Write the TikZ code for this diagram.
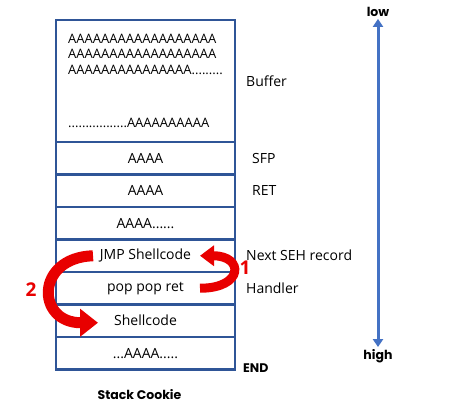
\documentclass[tikz,border=0pt]{standalone}
\usepackage{fontspec}
\setmainfont{Open Sans}
\newfontfamily\markfont{Poppins}
\usetikzlibrary{positioning, arrows.meta, calc}
\definecolor{frame}{RGB}{47,85,151}
\definecolor{axis}{RGB}{68,114,196}
\definecolor{hop}{RGB}{232,0,0}
\tikzset{
  cell/.style={
    draw=frame, line width=2.6pt, outer sep=0pt, inner sep=0pt,
    minimum width=179pt, minimum height=32.5pt, font=\fontsize{14}{16}\selectfont
  },
  tag/.style={anchor=west, inner sep=0pt, font=\fontsize{14}{16}\selectfont},
  boldtag/.style={inner sep=0pt, font=\markfont\bfseries\fontsize{12.5}{15}\selectfont},
  hopnum/.style={text=hop, inner sep=0pt, font=\bfseries\fontsize{19}{21}\selectfont},
  hoparrow/.style={draw=hop, line width=#1},
}

\begin{document}
\begin{tikzpicture}[node distance=0pt]
  \useasboundingbox (0,0) rectangle (456pt,-417pt);

  % stack frame
  \node[cell, minimum height=122pt, align=left, font=\fontsize{13}{15.5}\selectfont] (buf) at (145.5pt,-81pt)
    {AAAAAAAAAAAAAAAAAA\\AAAAAAAAAAAAAAAAAA\\AAAAAAAAAAAAAAA.........\\[38pt]
     .................AAAAAAAAAA};
  \node[cell, below=of buf] (sfp) {AAAA};
  \node[cell, below=of sfp] (ret) {AAAA};
  \node[cell, below=of ret] (pad) {AAAA......};
  \node[cell, below=of pad] (nseh) {JMP Shellcode};
  \node[cell, below=of nseh] (seh) {pop pop ret};
  \node[cell, below=of seh] (shell) {Shellcode};
  \node[cell, below=of shell] (tail) {...AAAA.....};

  % labels on the right
  \node[tag, right=11pt of buf] (bufL) {Buffer};
  \node[tag, right=17pt of sfp] (sfpL) {SFP};
  \node[tag, right=17pt of ret] (retL) {RET};
  \node[tag, right=11pt of nseh] (nsehL) {Next SEH record};
  \node[tag, right=11pt of seh] (sehL) {Handler};
  \node[boldtag, anchor=west] (endL) at ($(tail.south east)+(8pt,1pt)$) {END};
  \node[boldtag, below=20pt of tail, xshift=-6pt] (cookie) {Stack Cookie};

  % low / high
  \node[boldtag] (low) at (378pt,-12pt) {low};
  \node[boldtag] (high) at (378pt,-356pt) {high};
  \draw[axis, line width=3pt, {Triangle[length=8pt,width=10pt]}-{Triangle[length=8pt,width=10pt]}]
    ($(low.south)+(0,-2pt)$) -- ($(high.north)+(0,2pt)$);

  % SEH overwrite hops
  \coordinate (h1a) at ($(seh.east)+(-35pt,0)$);
  \coordinate (h1b) at ($(nseh.east)+(-35pt,0)$);
  \coordinate (h2a) at ($(nseh.west)+(37pt,0)$);
  \coordinate (h2b) at ($(shell.west)+(42pt,-2pt)$);
  \draw[hoparrow=9pt, -{Triangle[length=14pt,width=20pt]}]
    (h1a) .. controls ($(h1a)+(44pt,0)$) and ($(h1b)+(44pt,0)$) .. (h1b);
  \draw[hoparrow=11pt, -{Triangle[length=18pt,width=27pt]}]
    (h2a) .. controls ($(h2a)+(-58pt,-2pt)$) and ($(h2b)+(-62pt,0)$) .. (h2b);
  \node[hopnum] (one) at (245pt,-268pt) {1};
  \node[hopnum] (two) at (31pt,-290pt) {2};
\end{tikzpicture}
\end{document}
